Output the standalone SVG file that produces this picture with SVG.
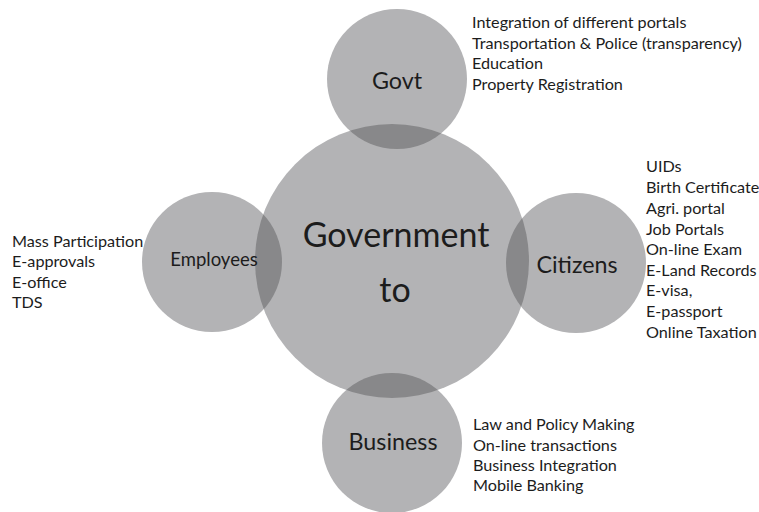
<svg xmlns="http://www.w3.org/2000/svg" width="759" height="512" viewBox="0 0 759 512">
<style>
.c{fill:#b3b3b5}
.o{fill:#88888a}
.t{font-family:Lato,"Liberation Sans",sans-serif;fill:#1c1c1c}
.l{font-size:16.2px}
.h{font-size:23.3px;text-anchor:middle}
</style>
<defs>
<clipPath id="cc"><circle cx="392" cy="261" r="137"/></clipPath>
</defs>
<rect width="759" height="512" fill="#fff"/>
<g id="center">
<circle class="c" cx="392" cy="261" r="137"/>
<text class="t" x="396" y="247" font-size="34" text-anchor="middle">Government</text>
<text class="t" x="395" y="302" font-size="34" text-anchor="middle">to</text>
</g>
<g id="govt">
<circle class="c" cx="397" cy="79" r="70"/>
<circle class="o" cx="397" cy="79" r="70" clip-path="url(#cc)"/>
<text class="t h" x="397" y="89">Govt</text>
<text class="t l" x="472" y="28">Integration of different portals</text>
<text class="t l" x="472" y="48.5">Transportation &amp; Police (transparency)</text>
<text class="t l" x="472" y="69">Education</text>
<text class="t l" x="472" y="89.5">Property Registration</text>
</g>
<g id="employees">
<circle class="c" cx="212" cy="262" r="70"/>
<circle class="o" cx="212" cy="262" r="70" clip-path="url(#cc)"/>
<text class="t" x="214" y="266" font-size="18.5" text-anchor="middle">Employees</text>
<text class="t l" x="12" y="247">Mass Participation</text>
<text class="t l" x="12" y="267">E-approvals</text>
<text class="t l" x="12" y="288">E-office</text>
<text class="t l" x="12" y="308">TDS</text>
</g>
<g id="citizens">
<circle class="c" cx="576" cy="263" r="70"/>
<circle class="o" cx="576" cy="263" r="70" clip-path="url(#cc)"/>
<text class="t h" x="577" y="273">Citizens</text>
<text class="t l" x="646" y="172">UIDs</text>
<text class="t l" x="646" y="193">Birth Certificate</text>
<text class="t l" x="646" y="214">Agri. portal</text>
<text class="t l" x="646" y="234.5">Job Portals</text>
<text class="t l" x="646" y="255">On-line Exam</text>
<text class="t l" x="646" y="275.5">E-Land Records</text>
<text class="t l" x="646" y="296">E-visa,</text>
<text class="t l" x="646" y="317">E-passport</text>
<text class="t l" x="646" y="337.5">Online Taxation</text>
</g>
<g id="business">
<circle class="c" cx="392" cy="443" r="70"/>
<circle class="o" cx="392" cy="443" r="70" clip-path="url(#cc)"/>
<text class="t h" x="393" y="450">Business</text>
<text class="t l" x="473" y="430">Law and Policy Making</text>
<text class="t l" x="473" y="451">On-line transactions</text>
<text class="t l" x="473" y="471">Business Integration</text>
<text class="t l" x="473" y="491">Mobile Banking</text>
</g>
<g id="connectors"/>
</svg>
